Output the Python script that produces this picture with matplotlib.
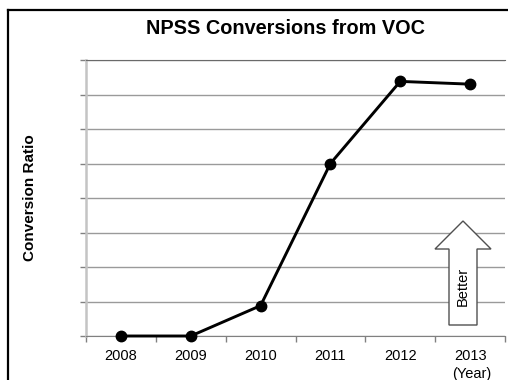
import matplotlib.pyplot as plt
from matplotlib.patches import FancyArrow
from matplotlib.lines import Line2D
import numpy as np

plt.rcParams["font.family"] = ["Liberation Sans", "DejaVu Sans"]

# conversion ratio per year (in gridline units)
years = ["2008", "2009", "2010", "2011", "2012", "2013"]
ratio = [0.0, 0.0, 0.88, 5.0, 7.38, 7.3]

fig = plt.figure(figsize=(5.08, 3.80), dpi=100)
ax = fig.add_axes([86 / 508, 44 / 380, 419 / 508, 276 / 380])

x = np.arange(len(years))
ax.plot(x, ratio, color="black", lw=2.1, marker="o", ms=7.5, zorder=3,
        clip_on=False)

# axes layout
ax.set_xlim(-0.5, len(years) - 0.5)
ax.set_ylim(0, 8)
ax.set_yticks(np.arange(0, 9))
ax.set_yticklabels([])
ax.set_xticks(x)
ax.set_xticklabels(years, fontsize=10.5)
ax.set_xticks(np.arange(-0.5, len(years)), minor=True)
ax.tick_params(axis="x", which="major", length=0, pad=9)
ax.tick_params(axis="x", which="minor", length=4, color="#808080", width=1)
ax.tick_params(axis="y", length=4, color="#808080", width=1)
ax.yaxis.grid(True, color="#9a9a9a", lw=1)
ax.set_axisbelow(True)

ax.spines["right"].set_visible(False)
ax.spines["left"].set_color("#c4c4c4")
ax.spines["left"].set_linewidth(1.8)
ax.spines["bottom"].set_color("#808080")
ax.spines["top"].set_color("#6a6a6a")

ax.set_ylabel("Conversion Ratio", fontsize=11, fontweight="bold")
ax.yaxis.set_label_coords(-49 / 419, 0.5)
fig.text(286 / 508, 1 - 29 / 380, "NPSS Conversions from VOC", ha="center",
         va="center", fontsize=14.3, fontweight="bold")
fig.text(472 / 508, 1 - 374 / 380, "(Year)", ha="center", va="center",
         fontsize=10.5)

# "Better" arrow, drawn in pixel units on the figure
W, H = 508, 380
arrow = FancyArrow(463 / W, 1 - 325 / H, 0, (325 - 221) / H, width=28 / W,
                   head_width=56 / W, head_length=28 / H,
                   length_includes_head=True, transform=fig.transFigure,
                   facecolor="white", edgecolor="#505050", lw=1)
fig.patches.append(arrow)
fig.text(463 / W, 1 - 286 / H, "Better", rotation=90, ha="center", va="center",
         fontsize=10.5)

# chart frame
fig.add_artist(Line2D([8 / W, 8 / W], [0, 1 - 9.5 / H], color="black", lw=1.6,
                      transform=fig.transFigure))
fig.add_artist(Line2D([8 / W, 1], [1 - 9.5 / H, 1 - 9.5 / H], color="black",
                      lw=1.6, transform=fig.transFigure))

fig.savefig("out.png", dpi=100)
